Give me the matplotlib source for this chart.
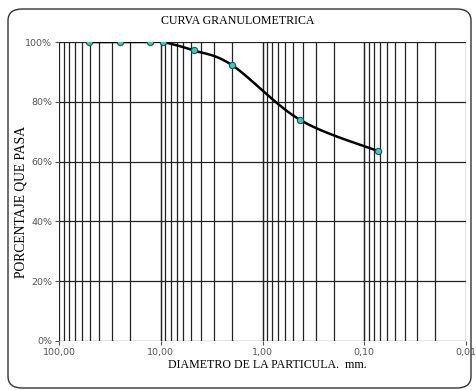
import numpy as np
import matplotlib.pyplot as plt
from matplotlib.patches import FancyBboxPatch
from matplotlib.ticker import FixedLocator, FuncFormatter

# tamices (mm) y porcentaje que pasa
diametro = [50.8, 25.4, 12.7, 9.525, 4.76, 2.0, 0.425, 0.074]
pasa = [100.0, 100.0, 100.0, 100.0, 97.2, 92.3, 73.9, 63.6]
x_ticks = [100, 10, 1, 0.1, 0.01]
x_labels = ["100,00", "10,00", "1,00", "0,10", "0,01"]
y_ticks = [0, 20, 40, 60, 80, 100]


def catmull_rom(x, y, n=30):
    # linea suavizada tipo Excel, en coordenadas log
    p = np.column_stack([np.log10(x), y])
    p = np.vstack([p[0], p, p[-1]])
    out = []
    for i in range(1, len(p) - 2):
        p0, p1, p2, p3 = p[i - 1], p[i], p[i + 1], p[i + 2]
        t = np.linspace(0, 1, n)[:, None]
        seg = 0.5 * ((2 * p1) + (-p0 + p2) * t + (2 * p0 - 5 * p1 + 4 * p2 - p3) * t ** 2
                     + (-p0 + 3 * p1 - 3 * p2 + p3) * t ** 3)
        out.append(seg)
    out = np.vstack(out)
    return 10 ** out[:, 0], out[:, 1]


fig = plt.figure(figsize=(4.76, 3.9), dpi=100)
fig.patch.set_facecolor("white")
fig.patches.append(FancyBboxPatch((8 / 476, 2 / 390), 463 / 476, 379 / 390,
                                  boxstyle="round,pad=0,rounding_size=0.03",
                                  transform=fig.transFigure, fill=False,
                                  edgecolor="#333333", linewidth=1.0))

ax = fig.add_axes([59 / 476, 49 / 390, 407 / 476, 299 / 390])
ax.set_xscale("log")
ax.set_xlim(100, 0.01)
ax.set_ylim(0, 100)

# rejilla
for d in [10, 1, 0.1, 0.01]:
    for k in range(1, 11):
        ax.axvline(d * k, color="#222222", linewidth=0.9, zorder=1)
for v in y_ticks:
    ax.axhline(v, color="#222222", linewidth=0.9, zorder=1)

xs, ys = catmull_rom(diametro, pasa)
ax.plot(xs, ys, color="black", linewidth=1.8, zorder=3)
ax.plot(diametro, pasa, linestyle="none", marker="o", markersize=4.5,
        markerfacecolor="#33cccc", markeredgecolor="#225555", markeredgewidth=0.8, zorder=4)

ax.xaxis.set_major_locator(FixedLocator(x_ticks))
ax.xaxis.set_minor_locator(FixedLocator([]))
ax.set_xticklabels(x_labels)
ax.set_yticks(y_ticks)
ax.yaxis.set_major_formatter(FuncFormatter(lambda v, p: "%d%%" % v))
ax.tick_params(axis="both", labelsize=6.8, colors="#555555", length=3, width=0.8, pad=2)
for s in ax.spines.values():
    s.set_visible(False)

fig.text(0.5, 0.947, "CURVA GRANULOMETRICA", ha="center", va="center",
         family="Liberation Serif", fontsize=8.6)
fig.text(0.562, 0.064, "DIAMETRO DE LA PARTICULA.  mm.", ha="center", va="center",
         family="Liberation Serif", fontsize=8.6)
fig.text(0.044, 0.482, "PORCENTAJE QUE PASA", ha="center", va="center", rotation=90,
         family="Liberation Serif", fontsize=9.8)

fig.savefig("out.png", dpi=100)
